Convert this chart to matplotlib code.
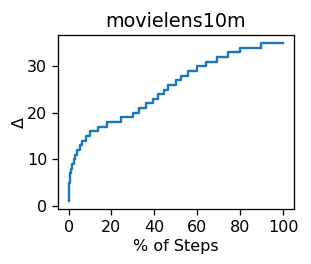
import matplotlib
matplotlib.use("Agg")
import matplotlib.pyplot as plt

# step change points: % of steps where delta goes up by one
pct_steps = [0, 0.05, 0.1, 0.2, 0.35, 0.5, 0.8, 1.2, 1.7, 2.3, 2.9, 3.9, 5.2, 6.3,
             7.9, 10, 13.7, 18, 24.5, 30.2, 33, 36.1, 39.2, 41.8, 44.6, 46.5, 50,
             52.3, 55.7, 59.7, 64, 69.3, 74.2, 80, 89.5, 100]
delta = [1, 2, 3, 4, 5, 6, 7, 8, 9, 10, 11, 12, 13, 14, 15, 16, 17, 18, 19, 20,
         21, 22, 23, 24, 25, 26, 27, 28, 29, 30, 31, 32, 33, 34, 35, 35]

s = 1.15  # reference looks like a scaled-down bigger figure
plt.rcParams.update({
    "font.size": 10 * s,
    "axes.titlesize": 12 * s,
    "axes.linewidth": 0.8 * s,
    "xtick.major.size": 3.5 * s,
    "ytick.major.size": 3.5 * s,
    "xtick.major.width": 0.8 * s,
    "ytick.major.width": 0.8 * s,
})

fig, ax = plt.subplots(figsize=(3.11, 2.64), dpi=100)
ax.step(pct_steps, delta, where="post", color="tab:blue", linewidth=1.5 * s)
ax.set_title("movielens10m")
ax.set_xlabel("% of Steps", labelpad=3)
ax.set_ylabel(r"$\Delta$", labelpad=0)
ax.set_xticks([0, 20, 40, 60, 80, 100])
ax.set_yticks([0, 10, 20, 30])
fig.subplots_adjust(left=0.186, right=0.945, top=0.867, bottom=0.208)
fig.savefig("out.png", dpi=100)
